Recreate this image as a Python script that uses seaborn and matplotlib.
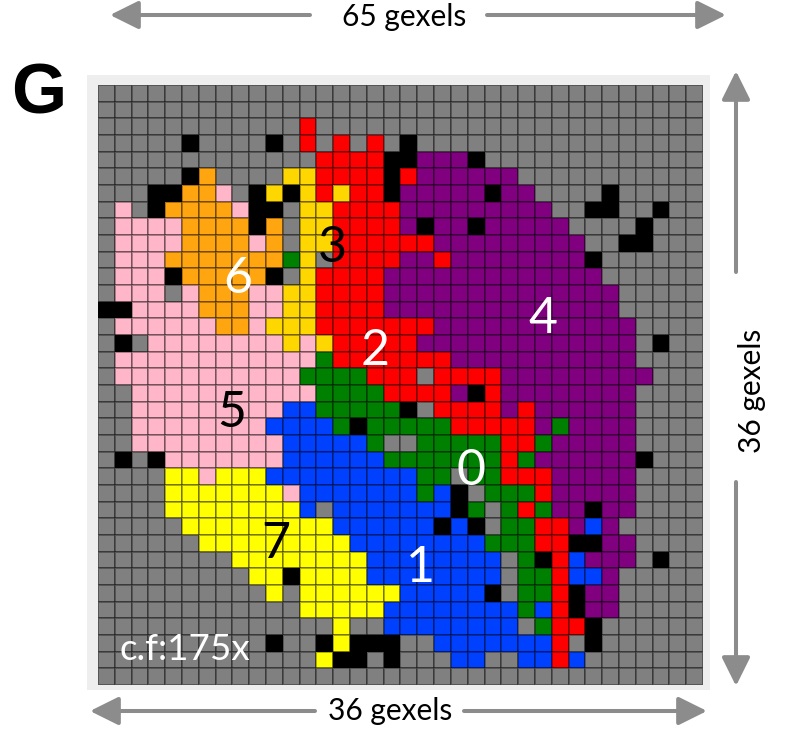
import numpy as np
import matplotlib
matplotlib.use("Agg")
import matplotlib.pyplot as plt
import seaborn as sns
from matplotlib.colors import ListedColormap
from matplotlib.patches import Rectangle

# cluster per gexel: '.' = background, 'x' = black, digits = cluster id
rows_left = [
    "..................",
    "..................",
    "............2.....",
    ".....x....x.2.2.2.",
    ".............2222x",
    ".....x6....332222x",
    "...xx665.x3x32322x",
    ".5.x66665xx.332222",
    ".55556666x6.332222",
    ".5555666656.332222",
    ".555666666603.2222",
    ".555x66666x.322224",
    ".555.5666553322224",
    "xx5555666553322224",
    ".55555566533322222",
    ".x.555555553532222",
    ".55555555555502222",
    ".55555555555000022",
    "..5555555555500002",
    "..5555555551100000",
    "..5555555511110x00",
    "..555555555111110.",
    ".x.x55555551111110",
    "....77577711111111",
    "....77777775111111",
    "....777777771.1111",
    ".....7777777771111",
    "......777777777111",
    "........7777777711",
    ".........77x777711",
    "..........7.777777",
    "............777771",
    "..............7..1",
    "..........x..x7xxx",
    ".............7xx.x",
    "..................",
]
rows_right = [
    "..................",
    "..................",
    "..................",
    "x.................",
    "x444x.............",
    "2444444...........",
    "44444x44....x.....",
    "444444444..xx..x..",
    "4x44x44444....x...",
    "22444444444..xx...",
    "44244444444x......",
    "444444444444......",
    "4444444444444.....",
    "4444444444444.....",
    "22444444444444....",
    "24444444444444.x..",
    "22244444444444....",
    "2.2222444444444...",
    "2224x244444444....",
    "x.222242444444....",
    "00022222404444....",
    ".0000022044444....",
    "00000020444444x...",
    "100.0022244444....",
    "101x.000244444....",
    "111x0.02044x44....",
    "11x1x.0022414.....",
    "1111100022xx44....",
    "111111.0x21444.x..",
    "111111.002114.....",
    "11111x.002x44.....",
    "1111111012x44.....",
    "1111111.022x......",
    "..11111112.x......",
    "...11..1121.......",
    "..................",
]
codes = "01234567.x"
cluster_colors = ["#008000", "#0040ff", "#ff0000", "#ffd700", "#800080",
                  "#ffb6c8", "#ffa50f", "#ffff00", "#808080", "#000000"]
cluster_labels = ["0", "1", "2", "3", "4", "5", "6", "7"]
label_x = [471, 420, 375, 332, 543, 232, 238, 276]
label_y = [471, 568, 351, 248, 319, 413, 279, 544]
label_colors = ["white", "white", "white", "black", "white", "black", "white", "black"]

grid = np.array([[codes.index(c) for c in l + r] for l, r in zip(rows_left, rows_right)])

W, H = 792, 753
sns.set_theme(style="white")
plt.rcParams["font.family"] = ["Lato", "DejaVu Sans"]
fig = plt.figure(figsize=(W / 100, H / 100), dpi=100, facecolor="white")

# pale frame round the map
fig.add_artist(Rectangle((87 / W, 1 - 690 / H), 623 / W, 615 / H, transform=fig.transFigure,
                         facecolor="#eeeeee", edgecolor="none", zorder=-1))

ax = fig.add_axes([98 / W, 1 - 685 / H, 605 / W, 600 / H])
sns.heatmap(grid, ax=ax, cmap=ListedColormap(cluster_colors), vmin=-0.5, vmax=9.5, cbar=False,
            linewidths=1.3, linecolor=(0, 0, 0, 0.32), xticklabels=False, yticklabels=False)

# overlay in pixel coordinates for the labels and arrows
ov = fig.add_axes([0, 0, 1, 1], facecolor="none")
ov.set_xlim(0, W)
ov.set_ylim(H, 0)
ov.axis("off")

for t, x, y, c in zip(cluster_labels, label_x, label_y, label_colors):
    ov.text(x, y, t, color=c, fontsize=36, ha="center", va="center")

ov.text(185, 650, "c.f:175x", color="white", fontsize=26.5, ha="center", va="center")
ov.text(39, 95, "G", color="black", fontsize=51, fontweight="bold", family="Liberation Sans",
        ha="center", va="center")
ov.text(404, 17, "65 gexels", color="black", fontsize=21.5, ha="center", va="center")
ov.text(390, 711, "36 gexels", color="black", fontsize=21.5, ha="center", va="center")
ov.text(752, 391, "36 gexels", color="black", fontsize=21.5, rotation=90, ha="center", va="center")


def arrow(x0, y0, x1, y1):
    ov.annotate("", xy=(x1, y1), xytext=(x0, y0),
                arrowprops=dict(arrowstyle="-|>,head_width=0.62,head_length=1.25", color="#8c8c8c",
                                lw=2.9, shrinkA=0, shrinkB=0, mutation_scale=14))


arrow(310, 15, 110, 15)
arrow(487, 15, 726, 15)
arrow(315, 711, 90, 711)
arrow(464, 711, 707, 711)
arrow(736, 272, 736, 71)
arrow(736, 482, 736, 686)

fig.savefig("out.png", dpi=100)
